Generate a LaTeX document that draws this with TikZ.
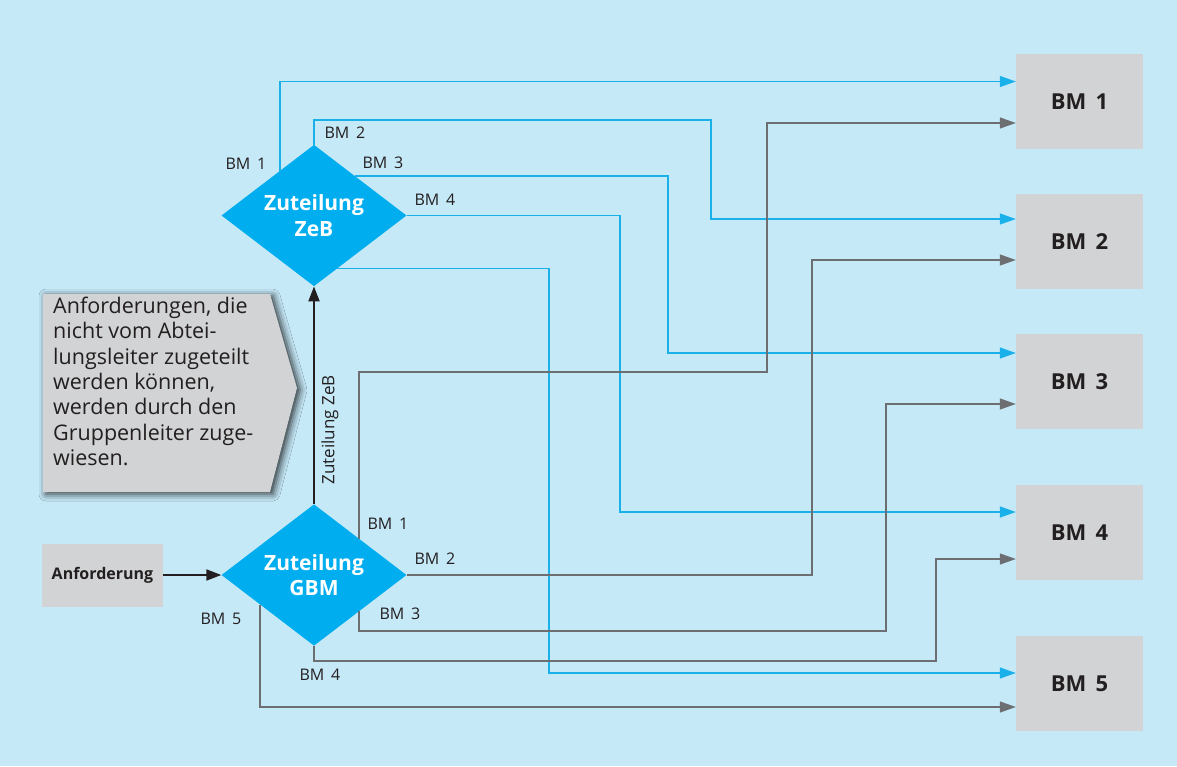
\documentclass[tikz,border=0pt]{standalone}
\usepackage{fontspec}
\setmainfont{Open Sans}
\usetikzlibrary{shapes.geometric,arrows.meta,calc,shadows.blur}
\definecolor{bgc}{HTML}{C6E9F8}
\definecolor{dia}{HTML}{00AEEF}
\definecolor{boxc}{HTML}{D1D3D4}
\definecolor{bline}{HTML}{1AB0EA}
\definecolor{gline}{HTML}{6D6E71}
\definecolor{txt}{HTML}{231F20}
\tikzset{
  decision/.style={diamond, fill=dia, inner sep=0pt, minimum width=185pt, minimum height=135pt,
    text=white, font=\fontsize{21}{25.5}\selectfont\bfseries, align=center},
  bmbox/.style={rectangle, fill=boxc, inner sep=0pt, minimum width=127pt, minimum height=95pt,
    text=txt, font=\fontsize{22}{26}\selectfont\bfseries},
  lab/.style={text=txt, font=\fontsize{16}{18}\selectfont, inner sep=0pt},
  bl/.style={draw=bline, line width=1.3pt, -{Triangle[length=16pt,width=11pt]}},
  gl/.style={draw=gline, line width=1.3pt, -{Triangle[length=16pt,width=11pt]}},
  blk/.style={draw=txt, line width=2pt, -{Triangle[length=15pt,width=11pt]}},
}
\begin{document}
\begin{tikzpicture}[x=1pt,y=-1pt]
\useasboundingbox (0,0) rectangle (1177,766);
\fill[bgc] (0,0) rectangle (1177,766);

% target boxes
\node[bmbox] (bm1) at (1079.5,101.5) {BM\ \,1};
\node[bmbox] (bm2) at (1079.5,241.5) {BM\ \,2};
\node[bmbox] (bm3) at (1079.5,381.5) {BM\ \,3};
\node[bmbox] (bm4) at (1079.5,532.5) {BM\ \,4};
\node[bmbox] (bm5) at (1079.5,683.5) {BM\ \,5};

% diamonds
\node[decision] (zeb) at (314,215.5) {Zuteilung\\ZeB};
\node[decision] (gbm) at (314,575) {Zuteilung\\GBM};

% request box
\node[rectangle, fill=boxc, minimum width=121pt, minimum height=63pt, inner sep=0pt,
  text=txt, font=\fontsize{16}{18}\selectfont\bfseries] (anf) at (102.5,575) {Anforderung};

% callout
\path[fill=boxc, blur shadow={shadow xshift=3pt, shadow yshift=-2pt, shadow blur radius=7pt, shadow opacity=80}]
  (43,294) -- (270,294) -- (297,388) -- (270,492) -- (43,492) -- cycle;
\node[anchor=north west, inner sep=0pt, text=txt, align=left,
  font=\fontsize{21.5}{25.3}\selectfont] (note) at (53,297)
  {Anforderungen, die\\nicht vom Abtei-\\lungsleiter zugeteilt\\werden können,\\werden durch den\\Gruppenleiter zuge-\\wiesen.};

% edge points on diamonds
\coordinate (zb1) at ($(zeb.west)!0.632!(zeb.north)$);
\coordinate (zb3) at ($(zeb.north)!0.443!(zeb.east)$);
\coordinate (zb5) at ($(zeb.south)!0.249!(zeb.east)$);
\coordinate (gb1) at ($(gbm.north)!0.486!(gbm.east)$);
\coordinate (gb3) at ($(gbm.south)!0.486!(gbm.east)$);
\coordinate (gb5) at ($(gbm.south)!0.584!(gbm.west)$);

% blue connectors from ZeB
\draw[bl] (zb1) |- (bm1.west |- 0,81.5);
\draw[bl] (zeb.north) |- (711,120) |- (bm2.west |- 0,219);
\draw[bl] (zb3) -| (668,353) -- (bm3.west |- 0,353);
\draw[bl] (zeb.east) -| (620,512) -- (bm4.west |- 0,512);
\draw[bl] (zb5) -| (549,673) -- (bm5.west |- 0,673);

% grey connectors from GBM
\draw[gl] (gb1) |- (767,372) |- (bm1.west |- 0,123);
\draw[gl] (gbm.east) -| (812,260) -- (bm2.west |- 0,260);
\draw[gl] (gb3) |- (886,631) |- (bm3.west |- 0,404);
\draw[gl] (gbm.south) |- (936,661) |- (bm4.west |- 0,559);
\draw[gl] (gb5) |- (bm5.west |- 0,707);

% black arrows
\draw[blk] (anf.east) -- (gbm.west);
\draw[blk] (gbm.north) -- (zeb.south);
\node[lab, rotate=90, font=\fontsize{17}{18}\selectfont] (zlab) at (330,430) {Zuteilung ZeB};

% labels
\node[lab] (lz1) at (246,164) {BM\ \,1};
\node[lab] (lz2) at (345,133) {BM\ \,2};
\node[lab] (lz3) at (383,163) {BM\ \,3};
\node[lab] (lz4) at (435,200) {BM\ \,4};
\node[lab] (lg1) at (388,524) {BM\ \,1};
\node[lab] (lg2) at (435,559) {BM\ \,2};
\node[lab] (lg3) at (400,614) {BM\ \,3};
\node[lab] (lg4) at (320,675) {BM\ \,4};
\node[lab] (lg5) at (221,619) {BM\ \,5};
\end{tikzpicture}
\end{document}
